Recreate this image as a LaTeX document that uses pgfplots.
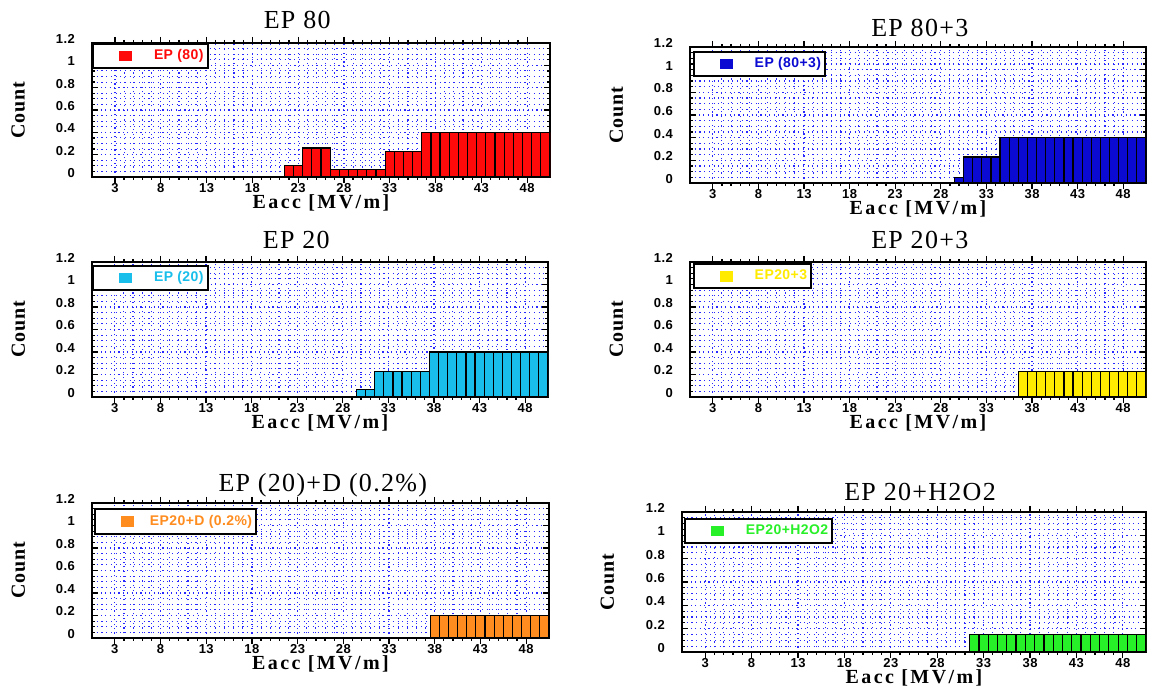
\documentclass[border=0pt]{standalone}
\usepackage{fontspec}
\setmainfont{Liberation Serif}
\setsansfont{Liberation Sans}
\usepackage{pgfplots}
\pgfplotsset{compat=1.18}
\newfontfamily\titlefont[LetterSpace=5]{Liberation Serif}
\newfontfamily\xlabfont[LetterSpace=12]{Liberation Serif}
\newfontfamily\ylabfont[LetterSpace=4]{Liberation Serif}
\newfontfamily\tickfont[LetterSpace=4]{Liberation Sans}
\newfontfamily\legfont[LetterSpace=3]{Liberation Sans}
\definecolor{cred}{RGB}{255,10,10}
\definecolor{cblue}{RGB}{10,10,210}
\definecolor{ccyan}{RGB}{25,190,235}
\definecolor{cyellow}{RGB}{255,235,0}
\definecolor{corange}{RGB}{255,140,30}
\definecolor{cgreen}{RGB}{40,240,40}
\definecolor{gridblue}{RGB}{40,40,255}
\pgfplotsset{
  panel/.style={
    scale only axis, anchor=south west,
    xmin=0.5, xmax=50.5, ymin=0, ymax=1.2,
    xtick={3,8,13,18,23,28,33,38,43,48},
    ytick={0,0.2,0.4,0.6,0.8,1,1.2},
    minor x tick num=4, minor y tick num=3,
    grid=both,
    major grid style={gridblue, line width=0.6pt, dash pattern=on 0.6pt off 1.6pt},
    minor grid style={gridblue, line width=0.55pt, dash pattern=on 0.55pt off 1.8pt},
    axis line style={black, line width=1pt},
    tick style={black, line width=0.6pt},
    major tick length=3pt, minor tick length=1.5pt,
    tick align=inside,
    ticklabel style={font=\tickfont\bfseries\fontsize{6.5}{7}\selectfont},
    yticklabel style={yshift=2pt, xshift=-5pt},
    xticklabel style={yshift=3.5pt},
    /pgf/number format/assume math mode=true,
    xlabel={Eacc [MV/m]}, ylabel={Count},
    xlabel style={font=\xlabfont\bfseries\fontsize{10}{11}\selectfont,
      at={(axis description cs:0.5,0)}, anchor=base, yshift=-16pt},
    ylabel style={font=\ylabfont\bfseries\fontsize{10}{11}\selectfont,
      at={(axis description cs:-0.147,0.5)}, anchor=base},
    title style={font=\titlefont\fontsize{13}{14}\selectfont, anchor=base},
    ybar, bar width=1, bar shift=0pt,
    legend style={at={(0,1)}, anchor=north west, draw=black, line width=1pt,
      font=\legfont\bfseries\fontsize{7}{8}\selectfont,
      inner xsep=0pt, inner ysep=0.8pt, fill=white},
    legend cell align=left,
    legend image code/.code={%
      \path[draw=none,fill=none] (0pt,0pt) -- (13pt,0pt);
      \fill[#1,draw=none] (13pt,-2.6pt) rectangle (19.5pt,2.6pt);},
  },
  barstyle/.style={draw=black, line width=0.6pt, fill=#1},
}
\begin{document}
\begin{tikzpicture}
\useasboundingbox (0,0) rectangle (574.5pt,344.5pt);

% Panel 1: EP 80
\begin{axis}[panel, at={(46pt,256pt)}, width=229pt, height=67pt,
  title={EP 80}, title style={at={(axis description cs:0.448,1)}, yshift=1.25pt}]
\addplot[barstyle=cred] coordinates {
(22,0.10)(23,0.10)(24,0.26)(25,0.26)(26,0.26)
(27,0.065)(28,0.065)(29,0.065)(30,0.065)(31,0.065)(32,0.065)
(33,0.23)(34,0.23)(35,0.23)(36,0.23)
(37,0.40)(38,0.40)(39,0.40)(40,0.40)(41,0.40)(42,0.40)(43,0.40)
(44,0.40)(45,0.40)(46,0.40)(47,0.40)(48,0.40)(49,0.40)(50,0.40)};
\addlegendentry{\hspace{9pt}\textcolor{cred}{EP (80)}\hspace{1.5pt}}
\end{axis}

% Panel 2: EP 80+3
\begin{axis}[panel, at={(345pt,253pt)}, width=228pt, height=68pt,
  title={EP 80+3}, title style={at={(axis description cs:0.504,1)}, yshift=-0.8pt},
  legend style={at={(axis description cs:0.006,0.97)}}]
\addplot[barstyle=cblue] coordinates {
(30,0.05)(31,0.23)(32,0.23)(33,0.23)(34,0.23)
(35,0.40)(36,0.40)(37,0.40)(38,0.40)(39,0.40)(40,0.40)(41,0.40)(42,0.40)
(43,0.40)(44,0.40)(45,0.40)(46,0.40)(47,0.40)(48,0.40)(49,0.40)(50,0.40)};
\addlegendentry{\hspace{9pt}\textcolor{cblue}{EP (80+3)}\hspace{3.5pt}}
\end{axis}

% Panel 3: EP 20
\begin{axis}[panel, at={(46pt,146pt)}, width=228pt, height=67.5pt,
  title={EP 20}, title style={at={(axis description cs:0.448,1)}, yshift=0.75pt},
  legend style={at={(axis description cs:0,0.98)}}]
\addplot[barstyle=ccyan] coordinates {
(30,0.065)(31,0.065)
(32,0.23)(33,0.23)(34,0.23)(35,0.23)(36,0.23)(37,0.23)
(38,0.40)(39,0.40)(40,0.40)(41,0.40)(42,0.40)(43,0.40)(44,0.40)
(45,0.40)(46,0.40)(47,0.40)(48,0.40)(49,0.40)(50,0.40)};
\addlegendentry{\hspace{9pt}\textcolor{ccyan}{EP (20)}\hspace{2pt}}
\end{axis}

% Panel 4: EP 20+3
\begin{axis}[panel, at={(345pt,146pt)}, width=228pt, height=67.5pt,
  title={EP 20+3}, title style={at={(axis description cs:0.504,1)}, yshift=0.75pt},
  legend style={at={(axis description cs:0.006,0.99)}}]
\addplot[barstyle=cyellow] coordinates {
(37,0.23)(38,0.23)(39,0.23)(40,0.23)(41,0.23)(42,0.23)(43,0.23)
(44,0.23)(45,0.23)(46,0.23)(47,0.23)(48,0.23)(49,0.23)(50,0.23)};
\addlegendentry{\hspace{9pt}\textcolor{cyellow}{EP20+3}\hspace{1pt}}
\end{axis}

% Panel 5: EP (20)+D (0.2%)
\begin{axis}[panel, at={(46pt,25.5pt)}, width=228.5pt, height=67.5pt,
  title={EP (20)+D (0.2\%)}, title style={at={(axis description cs:0.505,1)}, yshift=-0.25pt},
  legend style={at={(axis description cs:0.004,0.96)}}]
\addplot[barstyle=corange] coordinates {
(38,0.20)(39,0.20)(40,0.20)(41,0.20)(42,0.20)(43,0.20)(44,0.20)
(45,0.20)(46,0.20)(47,0.20)(48,0.20)(49,0.20)(50,0.20)};
\addlegendentry{\hspace{6pt}\textcolor{corange}{EP20+D (0.2\%)}\hspace{0.5pt}}
\end{axis}

% Panel 6: EP 20+H2O2
\begin{axis}[panel, at={(341pt,18.5pt)}, width=232pt, height=70pt,
  title={EP 20+H2O2}, title style={at={(axis description cs:0.513,1)}, yshift=-0.25pt},
  legend style={at={(axis description cs:0.004,0.955)}}]
\addplot[barstyle=cgreen] coordinates {
(32,0.15)(33,0.15)(34,0.15)(35,0.15)(36,0.15)(37,0.15)(38,0.15)
(39,0.15)(40,0.15)(41,0.15)(42,0.15)(43,0.15)(44,0.15)(45,0.15)
(46,0.15)(47,0.15)(48,0.15)(49,0.15)(50,0.15)};
\addlegendentry{\hspace{9pt}\textcolor{cgreen}{EP20+H2O2}\hspace{4pt}}
\end{axis}
\end{tikzpicture}
\end{document}
